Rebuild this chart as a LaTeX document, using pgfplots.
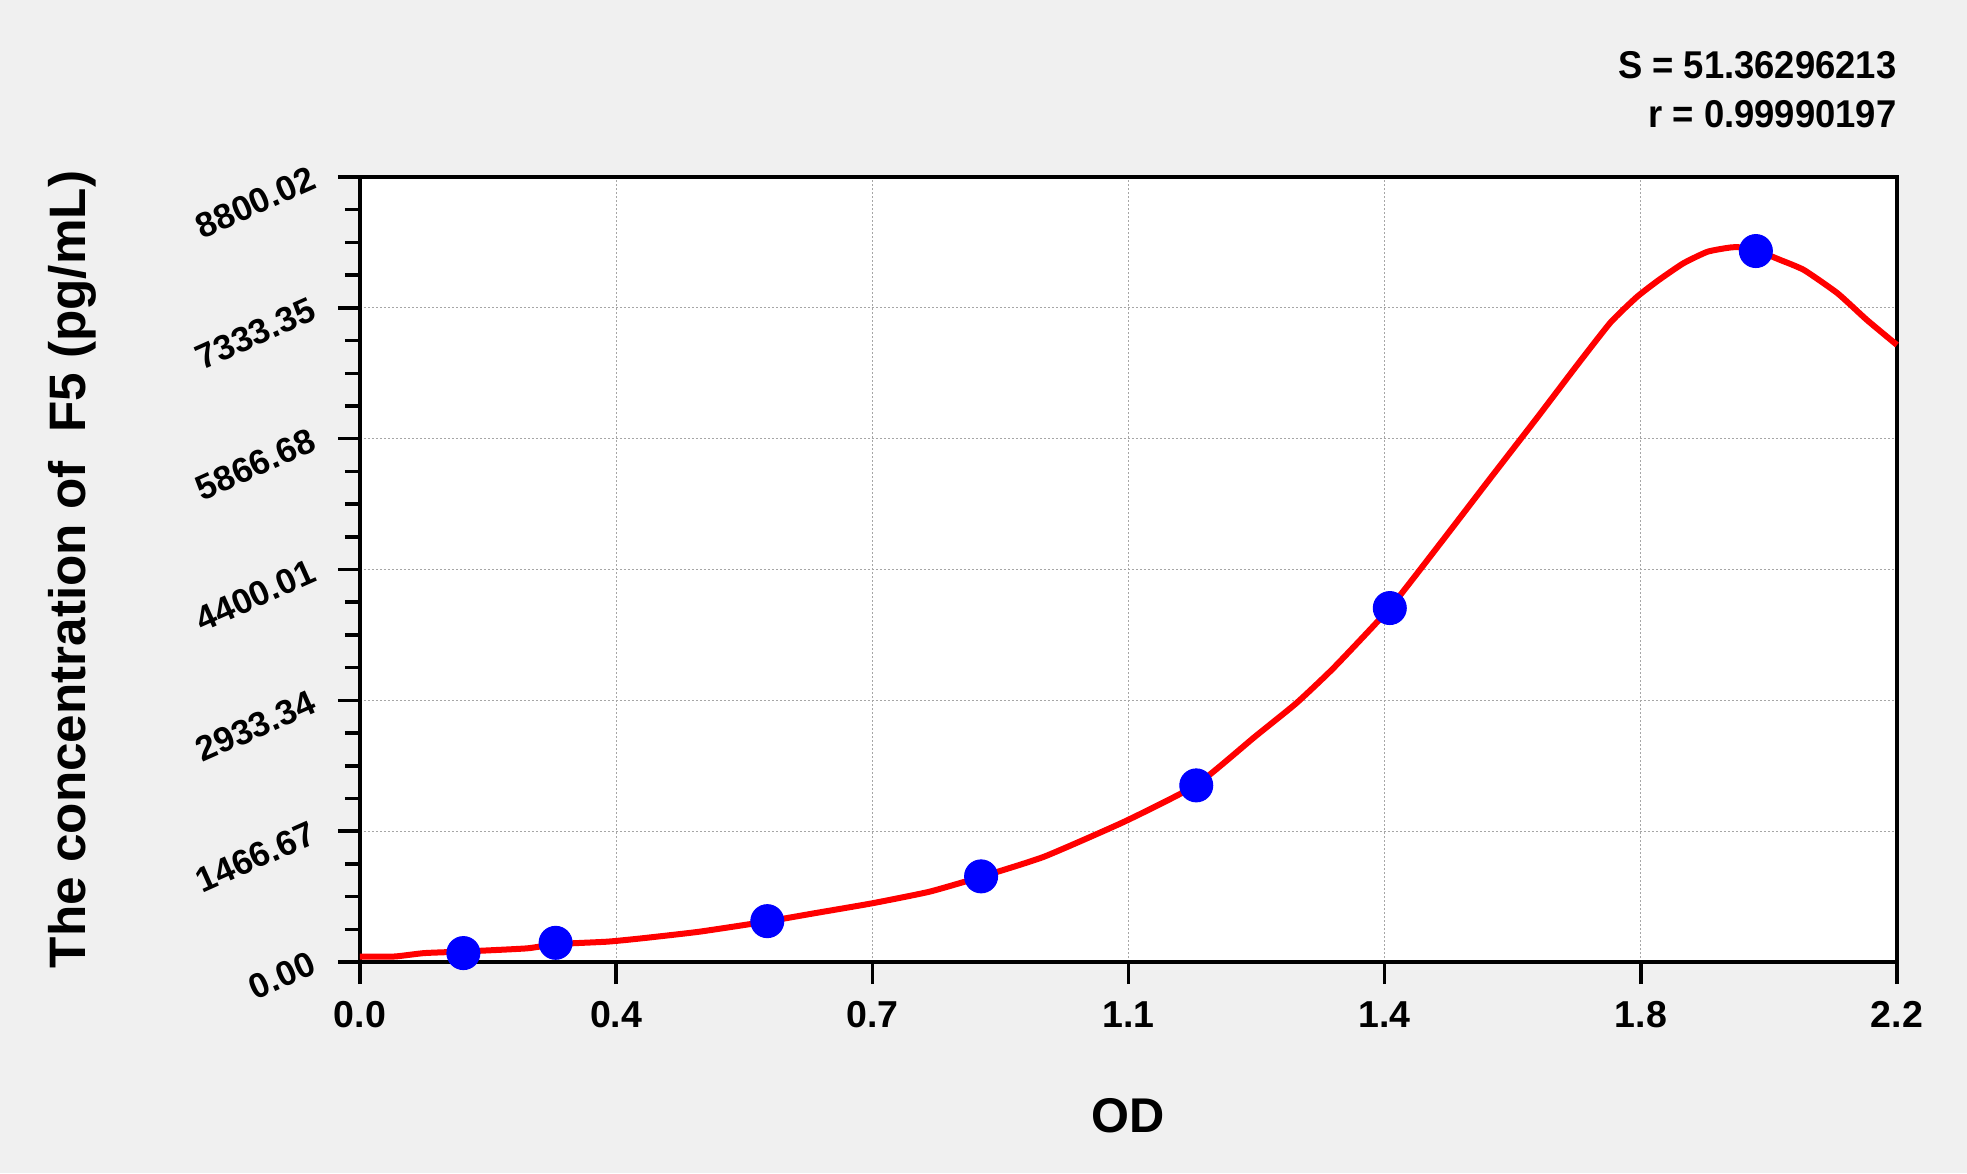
\documentclass[border=0pt]{standalone}
\usepackage{pgfplots}
\pgfplotsset{compat=1.18}
\usepackage{fontspec}
\setmainfont{Liberation Sans}
\newfontfamily\narrowfont[FakeStretch=0.94]{Liberation Sans}

\definecolor{bgc}{RGB}{240,240,240}
\definecolor{curvered}{RGB}{255,0,0}
\definecolor{dotblue}{RGB}{0,0,255}

\begin{document}
\begin{tikzpicture}
% page = 1967x1173 px at 2.5 px per pt
\path[use as bounding box, fill=bgc] (-144pt,-84.4pt) rectangle (642.8pt,384.8pt);
\begin{axis}[
  scale only axis,
  width=614.8pt, height=314pt,
  xmin=0, xmax=2.2,
  ymin=0, ymax=8800.02,
  axis background/.style={fill=white},
  axis line style={line width=1.8pt, black},
  xtick={0,0.366667,0.733333,1.1,1.466667,1.833333,2.2},
  xticklabels={0.0,0.4,0.7,1.1,1.4,1.8,2.2},
  ytick={0,1466.67,2933.34,4400.01,5866.68,7333.35,8800.02},
  yticklabels={0.00,1466.67,2933.34,4400.01,5866.68,7333.35,8800.02},
  minor tick num=3,
  tick align=outside,
  xtick pos=bottom, ytick pos=left,
  major tick length=8.8pt, minor tick length=6pt,
  every tick/.style={black, line width=1.4pt},
  grid=major,
  major grid style={gray!70, line width=0.5pt, dash pattern=on 0.8pt off 0.8pt},
  xticklabel style={font=\fontsize{15}{18}\selectfont\bfseries, anchor=north, yshift=-3.5pt},
  yticklabel style={font=\fontsize{14}{17}\selectfont\bfseries, rotate=24, anchor=east,
    xshift=-5.5pt, yshift=4pt},
  /pgf/number format/assume math mode=true,
  xlabel={OD},
  ylabel={The concentration of\ \ F5 (pg/mL)},
  every axis x label/.style={at={(axis description cs:0.5,-0.2166)}, anchor=base,
    font=\fontsize{19.5}{23}\selectfont\bfseries},
  every axis y label/.style={at={(axis description cs:-0.1783,0.5)}, anchor=base, rotate=90,
    font=\fontsize{20.5}{24}\selectfont\bfseries},
  clip=false,
]
\addplot[curvered, line width=2.4pt, smooth, tension=0.3] coordinates {
  (0.000,59) (0.050,62) (0.092,100) (0.150,118) (0.239,153) (0.280,200)
  (0.354,228) (0.404,266) (0.486,340) (0.583,455) (0.650,546)
  (0.733,658) (0.815,788) (0.889,955) (0.979,1180) (1.094,1573)
  (1.197,1985) (1.281,2526) (1.340,2900) (1.394,3300) (1.474,3968)
  (1.547,4700) (1.616,5404) (1.686,6113) (1.741,6680) (1.790,7170)
  (1.828,7458) (1.859,7645) (1.894,7832) (1.929,7963) (1.964,8012)
  (1.991,8000) (2.033,7870) (2.067,7757) (2.115,7496) (2.157,7197)
  (2.200,6917)
};
\addplot[only marks, mark=*, mark size=6.6pt, dotblue, mark options={draw=dotblue, fill=dotblue}] coordinates {
  (0.148,100) (0.280,215) (0.583,458) (0.889,960)
  (1.197,1980) (1.474,3968) (1.998,7970)
};
\node[anchor=base east, inner sep=0pt, font=\narrowfont\fontsize{15.5}{18}\selectfont\bfseries]
  at (axis description cs:1,1.1261) {S = 51.36296213};
\node[anchor=base east, inner sep=0pt, font=\narrowfont\fontsize{15.5}{18}\selectfont\bfseries]
  at (axis description cs:1,1.0637) {r = 0.99990197};
\end{axis}
\end{tikzpicture}
\end{document}
